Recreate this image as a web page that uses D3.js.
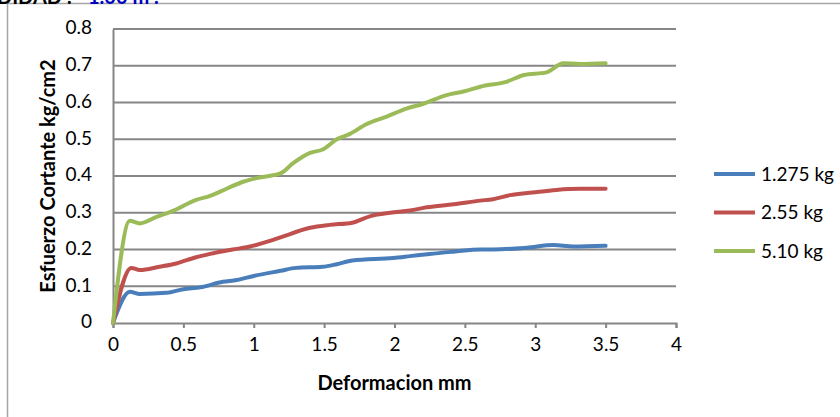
<!DOCTYPE html>
<html>
<head>
<meta charset="utf-8">
<script src="https://cdn.jsdelivr.net/npm/d3@7"></script>
<style>
  html, body { margin: 0; padding: 0; background: #fff; }
  svg { display: block; font-family: Lato, "Open Sans", sans-serif; }
</style>
</head>
<body>
<svg id="chart" width="840" height="417"></svg>
<script>
// Shear test: shear stress vs. deformation for three normal loads
const seriesNames = ["1.275 kg", "2.55 kg", "5.10 kg"];
const seriesColors = ["#4A7EBB", "#C0504D", "#9BBB59"];

const defo1 = [0, 0.12, 0.19, 0.38, 0.5, 0.62, 0.78, 0.88, 1.0, 1.19, 1.3, 1.49, 1.59, 1.7, 1.99, 2.11, 2.25, 2.42, 2.61, 2.7, 2.94, 3.13, 3.27, 3.5];
const stress1 = [0, 0.085, 0.079, 0.082, 0.092, 0.097, 0.112, 0.117, 0.128, 0.142, 0.15, 0.153, 0.16, 0.17, 0.177, 0.182, 0.188, 0.194, 0.2, 0.2, 0.205, 0.212, 0.208, 0.21];

const defo2 = [0, 0.13, 0.19, 0.33, 0.45, 0.59, 0.69, 0.85, 0.95, 1.12, 1.19, 1.4, 1.54, 1.7, 1.83, 1.97, 2.11, 2.23, 2.42, 2.61, 2.7, 2.82, 2.98, 3.15, 3.32, 3.5];
const stress2 = [0, 0.15, 0.144, 0.153, 0.162, 0.179, 0.188, 0.2, 0.206, 0.224, 0.233, 0.259, 0.267, 0.273, 0.291, 0.3, 0.306, 0.315, 0.323, 0.333, 0.337, 0.348, 0.355, 0.362, 0.365, 0.365];

const defo3 = [0, 0.12, 0.19, 0.31, 0.43, 0.59, 0.69, 0.81, 0.93, 1.04, 1.19, 1.28, 1.4, 1.49, 1.59, 1.68, 1.8, 1.94, 2.09, 2.2, 2.37, 2.49, 2.61, 2.8, 2.92, 3.08, 3.2, 3.32, 3.5];
const stress3 = [0, 0.278, 0.271, 0.289, 0.306, 0.335, 0.346, 0.366, 0.385, 0.396, 0.407, 0.435, 0.463, 0.472, 0.5, 0.514, 0.541, 0.561, 0.584, 0.596, 0.62, 0.63, 0.643, 0.657, 0.675, 0.682, 0.707, 0.705, 0.707];

const xTicks = [0, 0.5, 1, 1.5, 2, 2.5, 3, 3.5, 4];
const yTicks = [0, 0.1, 0.2, 0.3, 0.4, 0.5, 0.6, 0.7, 0.8];

const series = [
  { name: seriesNames[0], color: seriesColors[0], pts: defo1.map((d, i) => [d, stress1[i]]) },
  { name: seriesNames[1], color: seriesColors[1], pts: defo2.map((d, i) => [d, stress2[i]]) },
  { name: seriesNames[2], color: seriesColors[2], pts: defo3.map((d, i) => [d, stress3[i]]) }
];

const svg = d3.select("#chart");
const grid = "#868686";
const plot = { left: 113, right: 676, top: 29, bottom: 323 };

const x = d3.scaleLinear().domain([0, 4]).range([plot.left, plot.right]);
const y = d3.scaleLinear().domain([0, 0.8]).range([plot.bottom, plot.top]);

// Outer chart frame (left and top edges)
svg.append("path")
  .attr("d", "M7.5,417 V3.5 H840")
  .attr("fill", "none").attr("stroke", "#a6a6a6").attr("stroke-width", 1.5);

// Heading above the frame
const head = svg.append("text").attr("x", 72).attr("y", 4)
  .attr("text-anchor", "end").attr("font-weight", "bold").attr("font-size", 20)
  .attr("fill", "#000").text("PROFUNDIDAD :");
svg.append("text").attr("x", 88).attr("y", 4)
  .attr("font-weight", "bold").attr("font-size", 20)
  .attr("fill", "#0000C0").text("1.00 m .");

// Horizontal gridlines
svg.append("g").selectAll("line").data(yTicks.filter(d => d > 0)).join("line")
  .attr("x1", plot.left).attr("x2", plot.right)
  .attr("y1", d => y(d)).attr("y2", d => y(d))
  .attr("stroke", grid).attr("stroke-width", 2);

// X axis
const xAxis = svg.append("g").attr("transform", `translate(0,${plot.bottom})`)
  .call(d3.axisBottom(x).tickValues(xTicks).tickFormat(d3.format("")).tickSize(5).tickPadding(10));
xAxis.select(".domain").attr("stroke", grid).attr("stroke-width", 2);
xAxis.selectAll(".tick line").attr("stroke", grid).attr("stroke-width", 2);
xAxis.selectAll(".tick text").attr("font-size", 19).attr("fill", "#000")
  .attr("font-family", "Lato, sans-serif");

// Y axis
const yAxis = svg.append("g").attr("transform", `translate(${plot.left},0)`)
  .call(d3.axisLeft(y).tickValues(yTicks).tickFormat(d3.format("")).tickSize(0).tickPadding(21));
yAxis.select(".domain").attr("stroke", grid).attr("stroke-width", 2);
yAxis.selectAll(".tick text").attr("font-size", 19).attr("fill", "#000")
  .attr("font-family", "Lato, sans-serif").attr("dy", "0.25em");

// Axis titles
svg.append("text").attr("x", (plot.left + plot.right) / 2).attr("y", 390)
  .attr("text-anchor", "middle").attr("font-weight", "bold").attr("font-size", 20)
  .text("Deformacion mm");
svg.append("text").attr("transform", `translate(55,${(plot.top + plot.bottom) / 2}) rotate(-90)`)
  .attr("text-anchor", "middle").attr("font-weight", "bold").attr("font-size", 20)
  .text("Esfuerzo Cortante kg/cm2");

// Smoothed curves
const line = d3.line().x(d => x(d[0])).y(d => y(d[1])).curve(d3.curveMonotoneX);
svg.append("g").selectAll("path").data(series).join("path")
  .attr("d", d => line(d.pts))
  .attr("fill", "none").attr("stroke", d => d.color)
  .attr("stroke-width", 4).attr("stroke-linejoin", "round").attr("stroke-linecap", "round");

// Legend
const legend = svg.append("g").selectAll("g").data(series).join("g")
  .attr("transform", (d, i) => `translate(714,${174 + i * 38.5})`);
legend.append("line").attr("x1", 0).attr("x2", 41)
  .attr("stroke", d => d.color).attr("stroke-width", 4);
legend.append("text").attr("x", 47).attr("dy", "0.35em")
  .attr("font-size", 19).text(d => d.name);
</script>
</body>
</html>
